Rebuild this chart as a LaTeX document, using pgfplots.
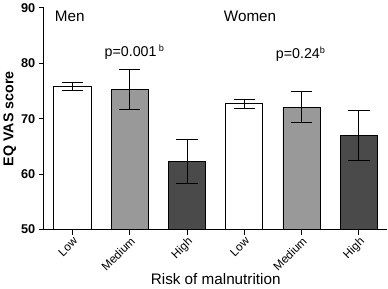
\documentclass[border=0pt]{standalone}
\usepackage{fontspec}
\setmainfont{Liberation Sans}
\usepackage{pgfplots}
\pgfplotsset{compat=1.18}
\definecolor{midgray}{HTML}{999999}
\definecolor{darkgray}{HTML}{4A4A4A}
\begin{document}
\begin{tikzpicture}[x=1pt,y=1pt]
\begin{axis}[
  scale only axis,
  width=338pt, height=218pt,
  xmin=-0.5, xmax=5.5, ymin=50, ymax=90,
  axis x line*=bottom, axis y line*=left,
  tick align=outside,
  xtick={0,1,2,3,4,5},
  xticklabels={Low,Medium,High,Low,Medium,High},
  x tick label style={rotate=45, anchor=north east, font=\fontsize{11.5}{13}\selectfont, inner sep=1pt},
  ytick={50,60,70,80,90},
  y tick label style={font=\fontsize{12.5}{14}\selectfont\bfseries},
  /pgf/number format/assume math mode=true,
  ylabel={\bfseries EQ VAS score},
  ylabel style={font=\fontsize{14}{16}\selectfont, yshift=-2pt},
  xlabel={Risk of malnutrition},
  xlabel style={font=\fontsize{15}{17}\selectfont, yshift=3pt},
  major tick length=5pt,
  tick style={black, line width=0.9pt},
  axis line style={line width=1pt},
  clip=false,
  ybar, bar width=0.65, bar shift=0pt,
]
\addplot[fill=white, draw=black, line width=0.9pt,
  error bars/.cd, y dir=both, y explicit, error bar style={line width=1pt}, error mark options={rotate=90, mark size=10.5pt, line width=1pt}]
  coordinates {(0,75.8) +- (0,0.65) (3,72.7) +- (0,0.8)};
\addplot[fill=midgray, draw=black, line width=0.9pt,
  error bars/.cd, y dir=both, y explicit, error bar style={line width=1pt}, error mark options={rotate=90, mark size=10.5pt, line width=1pt}]
  coordinates {(1,75.3) +- (0,3.6) (4,72.1) +- (0,2.8)};
\addplot[fill=darkgray, draw=black, line width=0.9pt,
  error bars/.cd, y dir=both, y explicit, error bar style={line width=1pt}, error mark options={rotate=90, mark size=10.5pt, line width=1pt}]
  coordinates {(2,62.3) +- (0,4.0) (5,66.9) +- (0,4.5)};
\node[font=\fontsize{15}{17}\selectfont] at (axis cs:-0.05,88.5) {Men};
\node[font=\fontsize{15}{17}\selectfont] at (axis cs:3.1,88.5) {Women};
\node[font=\fontsize{14}{16}\selectfont] at (axis cs:1.08,82.0) {p=0.001\,\raisebox{0.7ex}{\fontsize{9}{9}\selectfont b}};
\node[font=\fontsize{14}{16}\selectfont] at (axis cs:3.98,81.6) {p=0.24\raisebox{0.7ex}{\fontsize{9}{9}\selectfont b}};
\end{axis}
\end{tikzpicture}
\end{document}
